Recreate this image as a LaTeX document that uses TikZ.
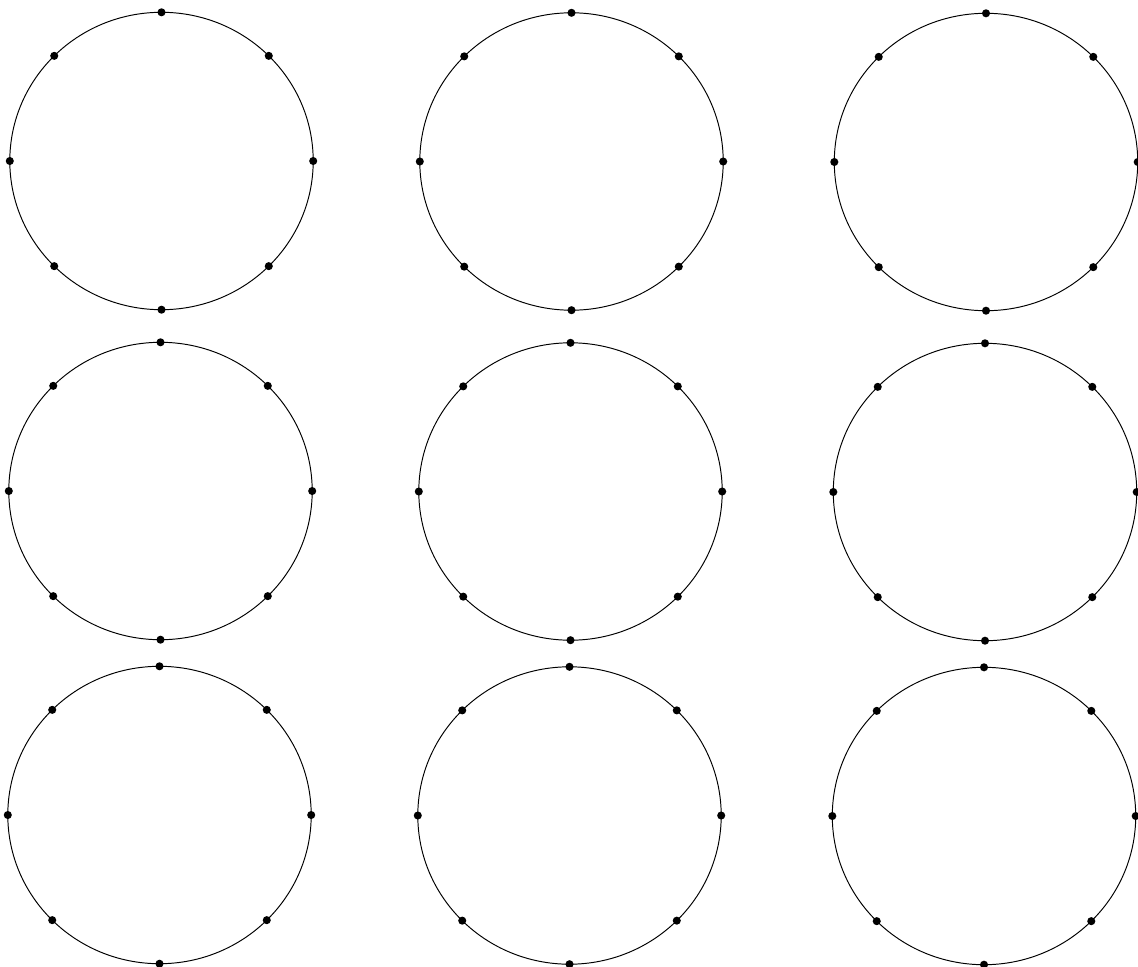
\documentclass[tikz,border=0pt]{standalone}
\begin{document}
\begin{tikzpicture}[x=0.02cm,y=-0.02cm,
  rim/.style={line width=0.55pt},
  dot/.style={fill=black}]
\useasboundingbox (0,0) rectangle (1138,966);
% 3x3 rings, eight points on each
\foreach \r/\y in {0/161,1/491,2/815}
 \foreach \c/\x in {0/161.5,1/571.5,2/986} {
  \draw[rim] (\x-\r,\y+0.5*\c) ellipse [x radius=151.7, y radius=148.7];
  \foreach \a in {0,45,...,315}
   \fill[dot] (\x-\r,\y+0.5*\c) ++(\a:151.7 and 148.7) circle (2.3pt);
 }
\end{tikzpicture}
\end{document}
